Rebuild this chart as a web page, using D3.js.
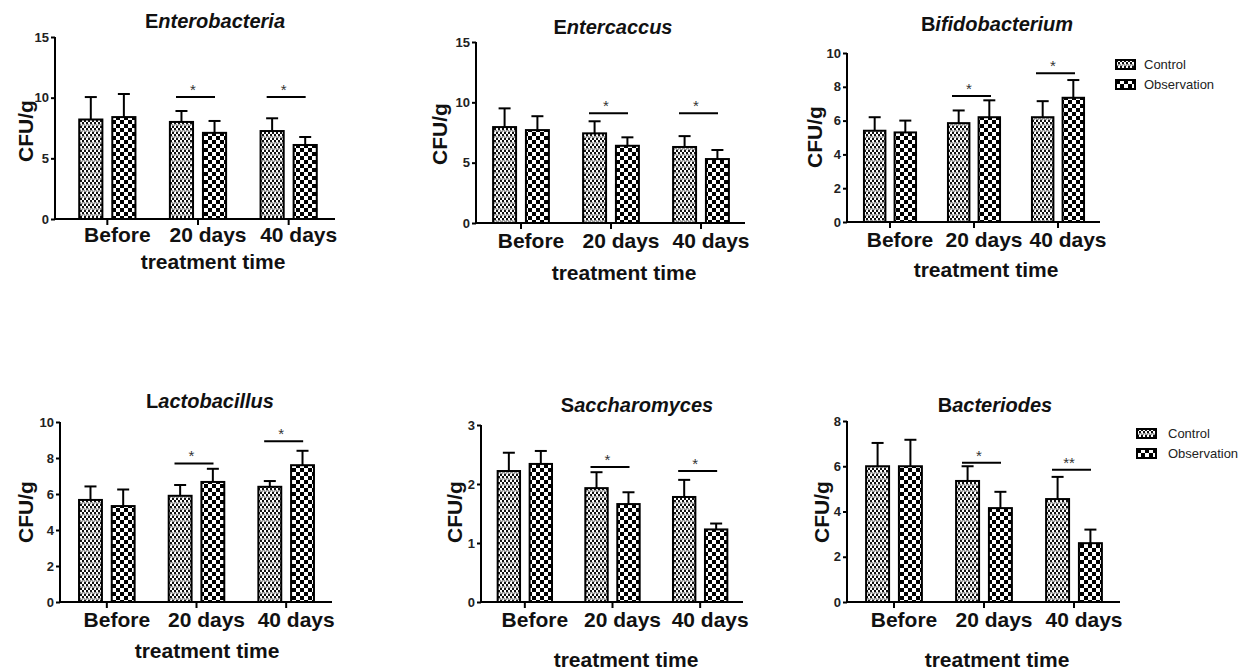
<!DOCTYPE html>
<html>
<head>
<meta charset="utf-8">
<script src="https://cdn.jsdelivr.net/npm/d3@7"></script>
<style>
  body { margin: 0; background: #fff; }
  svg { display: block; font-family: "Liberation Sans", Arial, sans-serif; }
  .tick text { font-size: 13px; font-weight: bold; fill: #222; }
  .domain { display: none; }
  .tick line { stroke: #000; stroke-width: 2; }
</style>
</head>
<body>
<svg id="chart" width="1250" height="672"></svg>
<script>
// categories and series
var categories = ["Before", "20 days", "40 days"];
var groups = ["Control", "Observation"];

var enteroCtrl = [8.2, 8.0, 7.25], enteroCtrlSd = [1.85, 0.9, 1.05];
var enteroObs  = [8.4, 7.1, 6.1],  enteroObsSd  = [1.9, 0.98, 0.66];
var enteroSig  = [null, 10.05, 10.05];

var entercCtrl = [7.95, 7.43, 6.3], entercCtrlSd = [1.55, 1.0, 0.9];
var entercObs  = [7.7, 6.4, 5.3],   entercObsSd  = [1.15, 0.7, 0.75];
var entercSig  = [null, 9.1, 9.1];

var bifidoCtrl = [5.4, 5.85, 6.2], bifidoCtrlSd = [0.8, 0.75, 0.95];
var bifidoObs  = [5.3, 6.2, 7.35], bifidoObsSd  = [0.7, 1.0, 1.05];
var bifidoSig  = [null, 7.45, 8.8];

var lactoCtrl = [5.67, 5.9, 6.4], lactoCtrlSd = [0.75, 0.6, 0.32];
var lactoObs  = [5.33, 6.67, 7.6], lactoObsSd = [0.92, 0.73, 0.8];
var lactoSig  = [null, 7.7, 8.93];

var sacchCtrl = [2.22, 1.93, 1.78], sacchCtrlSd = [0.31, 0.27, 0.29];
var sacchObs  = [2.34, 1.66, 1.23], sacchObsSd  = [0.22, 0.2, 0.1];
var sacchSig  = [null, 2.29, 2.22];

var bacterCtrl = [6.0, 5.35, 4.55], bacterCtrlSd = [1.03, 0.65, 0.98];
var bacterObs  = [6.0, 4.15, 2.6],  bacterObsSd  = [1.17, 0.72, 0.6];
var bacterSig  = [null, 6.15, 5.84];
var bacterStars = ["", "*", "**"];
var stars = ["", "*", "*"];

var ticks15 = [0, 5, 10, 15], ticks10 = [0, 2, 4, 6, 8, 10], ticks3 = [0, 1, 2, 3], ticks8 = [0, 2, 4, 6, 8];

// panel layout (pixels)
var panels = [
  {head: "E", rest: "nterobacteria", ctrl: enteroCtrl, ctrlSd: enteroCtrlSd, obs: enteroObs, obsSd: enteroObsSd, sig: enteroSig, stars: stars,
   ymax: 15, ticks: ticks15, ax: 55, axEnd: 335, band: [62, 334], yTop: 37, yBot: 219,
   title: [215, 28], ylab: [33, 131], catY: 242, xlab: [213, 269], legend: false},
  {head: "E", rest: "ntercaccus", ctrl: entercCtrl, ctrlSd: entercCtrlSd, obs: entercObs, obsSd: entercObsSd, sig: entercSig, stars: stars,
   ymax: 15, ticks: ticks15, ax: 476, axEnd: 745, band: [476, 746], yTop: 42, yBot: 223,
   title: [613, 34], ylab: [447, 134], catY: 248, xlab: [624, 280], legend: false},
  {head: "B", rest: "ifidobacterium", ctrl: bifidoCtrl, ctrlSd: bifidoCtrlSd, obs: bifidoObs, obsSd: bifidoObsSd, sig: bifidoSig, stars: stars,
   ymax: 10, ticks: ticks10, ax: 847, axEnd: 1100, band: [848, 1100], yTop: 53, yBot: 222,
   title: [997, 31], ylab: [822, 137], catY: 247, xlab: [986, 277], legend: [1116, 60, 1144]},
  {head: "L", rest: "actobacillus", ctrl: lactoCtrl, ctrlSd: lactoCtrlSd, obs: lactoObs, obsSd: lactoObsSd, sig: lactoSig, stars: stars,
   ymax: 10, ticks: ticks10, ax: 60, axEnd: 332, band: [62, 331], yTop: 422, yBot: 602,
   title: [210, 408], ylab: [33, 512], catY: 627, xlab: [207, 658], legend: false},
  {head: "S", rest: "accharomyces", ctrl: sacchCtrl, ctrlSd: sacchCtrlSd, obs: sacchObs, obsSd: sacchObsSd, sig: sacchSig, stars: stars,
   ymax: 3, ticks: ticks3, ax: 481, axEnd: 743, band: [481, 744], yTop: 425, yBot: 602,
   title: [637, 412], ylab: [462, 512], catY: 627, xlab: [626, 667], legend: false},
  {head: "B", rest: "acteriodes", ctrl: bacterCtrl, ctrlSd: bacterCtrlSd, obs: bacterObs, obsSd: bacterObsSd, sig: bacterSig, stars: bacterStars,
   ymax: 8, ticks: ticks8, ax: 847, axEnd: 1120, band: [849, 1119], yTop: 421, yBot: 602,
   title: [995, 412], ylab: [829, 512], catY: 627, xlab: [997, 667], legend: [1137, 429, 1168]}
];

var svg = d3.select("#chart");
var defs = svg.append("defs");

// control: fine checker with grey bands
var pc = defs.append("pattern").attr("id", "pat-ctrl").attr("patternUnits", "userSpaceOnUse")
    .attr("width", 4).attr("height", 6);
pc.append("rect").attr("width", 4).attr("height", 6).attr("fill", "#fff");
pc.append("rect").attr("x", 0).attr("y", 0).attr("width", 2).attr("height", 2).attr("fill", "#111");
pc.append("rect").attr("x", 2).attr("y", 2).attr("width", 2).attr("height", 2).attr("fill", "#111");
pc.append("rect").attr("x", 0).attr("y", 4).attr("width", 4).attr("height", 2).attr("fill", "#999");
pc.append("rect").attr("x", 1).attr("y", 4).attr("width", 1).attr("height", 1).attr("fill", "#eee");
pc.append("rect").attr("x", 3).attr("y", 5).attr("width", 1).attr("height", 1).attr("fill", "#eee");

// observation: coarse checkerboard
var po = defs.append("pattern").attr("id", "pat-obs").attr("patternUnits", "userSpaceOnUse")
    .attr("width", 8).attr("height", 8);
po.append("rect").attr("width", 8).attr("height", 8).attr("fill", "#fff");
po.append("rect").attr("x", 0).attr("y", 0).attr("width", 4).attr("height", 4).attr("fill", "#000");
po.append("rect").attr("x", 4).attr("y", 4).attr("width", 4).attr("height", 4).attr("fill", "#000");

var fills = {Control: "url(#pat-ctrl)", Observation: "url(#pat-obs)"};

panels.forEach(function(p) {
    var g = svg.append("g");

    var x = d3.scaleBand().domain(categories).range(p.band);
    var bw = x.bandwidth();
    var x1 = d3.scaleBand().domain(groups)
        .range([bw / 2 - bw * 0.31, bw / 2 + bw * 0.31]).paddingInner(0.3);
    var y = d3.scaleLinear().domain([0, p.ymax]).range([p.yBot, p.yTop]);

    var rows = [];
    categories.forEach(function(c, i) {
        rows.push({cat: c, grp: "Control", v: p.ctrl[i], sd: p.ctrlSd[i]});
        rows.push({cat: c, grp: "Observation", v: p.obs[i], sd: p.obsSd[i]});
    });

    // error bars (upper only)
    var eb = g.selectAll(".err").data(rows).enter().append("g").attr("class", "err");
    eb.append("line")
        .attr("x1", function(d) { return x(d.cat) + x1(d.grp) + x1.bandwidth() / 2; })
        .attr("x2", function(d) { return x(d.cat) + x1(d.grp) + x1.bandwidth() / 2; })
        .attr("y1", function(d) { return y(d.v); })
        .attr("y2", function(d) { return y(d.v + d.sd); })
        .attr("stroke", "#000").attr("stroke-width", 2);
    eb.append("line")
        .attr("x1", function(d) { return x(d.cat) + x1(d.grp) + x1.bandwidth() / 2 - 6; })
        .attr("x2", function(d) { return x(d.cat) + x1(d.grp) + x1.bandwidth() / 2 + 6; })
        .attr("y1", function(d) { return y(d.v + d.sd); })
        .attr("y2", function(d) { return y(d.v + d.sd); })
        .attr("stroke", "#000").attr("stroke-width", 2);

    // bars
    g.selectAll(".bar").data(rows).enter().append("rect")
        .attr("class", "bar")
        .attr("x", function(d) { return x(d.cat) + x1(d.grp); })
        .attr("y", function(d) { return y(d.v); })
        .attr("width", x1.bandwidth())
        .attr("height", function(d) { return y(0) - y(d.v); })
        .attr("fill", function(d) { return fills[d.grp]; })
        .attr("stroke", "#000").attr("stroke-width", 2);

    // axes
    g.append("g").attr("transform", "translate(" + p.ax + ",0)")
        .call(d3.axisLeft(y).tickValues(p.ticks).tickFormat(d3.format("d")).tickSize(4).tickPadding(2));
    g.append("line").attr("x1", p.ax).attr("x2", p.ax).attr("y1", p.yTop).attr("y2", p.yBot + 1)
        .attr("stroke", "#000").attr("stroke-width", 2);
    g.append("line").attr("x1", p.ax - 1).attr("x2", p.axEnd).attr("y1", p.yBot).attr("y2", p.yBot)
        .attr("stroke", "#000").attr("stroke-width", 2);
    var xa = g.append("g").attr("transform", "translate(0," + p.yBot + ")")
        .call(d3.axisBottom(x).tickSize(6));
    xa.selectAll(".tick text").remove();

    g.selectAll(".cat").data(categories).enter().append("text")
        .attr("x", function(d) { return x(d) + bw / 2 + 10; })
        .attr("y", p.catY)
        .attr("text-anchor", "middle")
        .style("font-size", "21px").style("font-weight", "bold").style("fill", "#111")
        .text(function(d) { return d; });

    // significance
    categories.forEach(function(c, i) {
        if (p.sig[i] == null) return;
        var cx = x(c) + bw / 2;
        var sy = y(p.sig[i]);
        g.append("line").attr("x1", cx - 22).attr("x2", cx + 17).attr("y1", sy).attr("y2", sy)
            .attr("stroke", "#000").attr("stroke-width", 2);
        g.append("text").attr("x", cx - 5).attr("y", sy - 2).attr("text-anchor", "middle")
            .style("font-size", "15px").style("fill", "#333").text(p.stars[i]);
    });

    // titles
    var t = g.append("text").attr("x", p.title[0]).attr("y", p.title[1]).attr("text-anchor", "middle")
        .style("font-size", "20px").style("font-weight", "bold").style("fill", "#111");
    t.append("tspan").text(p.head);
    t.append("tspan").style("font-style", "italic").text(p.rest);

    g.append("text")
        .attr("transform", "translate(" + p.ylab[0] + "," + p.ylab[1] + ") rotate(-90)")
        .attr("text-anchor", "middle")
        .style("font-size", "21px").style("font-weight", "bold").style("fill", "#111")
        .text("CFU/g");

    g.append("text").attr("x", p.xlab[0]).attr("y", p.xlab[1]).attr("text-anchor", "middle")
        .style("font-size", "21px").style("font-weight", "bold").style("fill", "#111")
        .text("treatment time");

    // legend
    if (p.legend) {
        var lg = g.selectAll(".leg").data(groups).enter().append("g")
            .attr("transform", function(d, i) { return "translate(" + p.legend[0] + "," + (p.legend[1] + i * 20) + ")"; });
        lg.append("rect").attr("width", 19).attr("height", 9)
            .attr("fill", function(d) { return fills[d]; })
            .attr("stroke", "#000").attr("stroke-width", 2);
        lg.append("text").attr("x", p.legend[2] - p.legend[0]).attr("y", 9)
            .style("font-size", "13px").style("fill", "#222")
            .text(function(d) { return d; });
    }
});
</script>
</body>
</html>
